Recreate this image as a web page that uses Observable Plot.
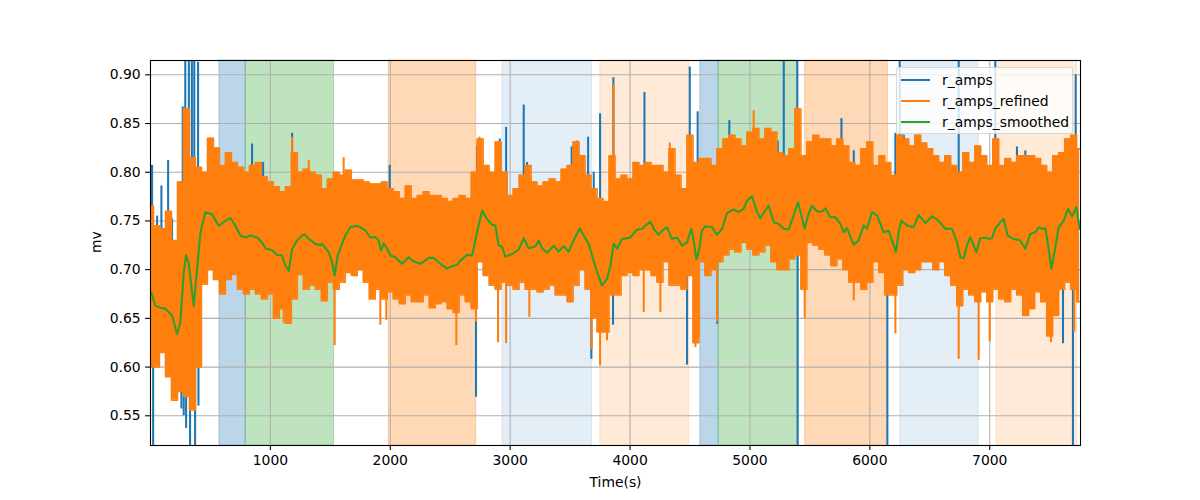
<!DOCTYPE html>
<html><head><meta charset="utf-8">
<script src="https://cdn.jsdelivr.net/npm/d3@7"></script>
<script src="https://cdn.jsdelivr.net/npm/@observablehq/plot@0.6"></script>
<style>
body{margin:0;background:#fff;font-family:"DejaVu Sans",sans-serif}
#wrap{position:relative;width:1200px;height:500px}
.legend{position:absolute;left:896px;top:67px;width:177px;height:67px;background:rgba(255,255,255,0.8);border:1px solid rgba(204,204,204,0.8);border-radius:3px;box-sizing:border-box;font-size:13.9px;color:#000}
.item{position:absolute;left:4px;height:18px;display:flex;align-items:center;white-space:nowrap}
.item .sw{width:29px;height:0;border-top:2.1px solid;margin-right:12px}
</style></head>
<body><div id="wrap"></div>
<script>
// ---- data ----
const seriesNames = ["r_amps", "r_amps_refined", "r_amps_smoothed"];
const xTicks = [1000, 2000, 3000, 4000, 5000, 6000, 7000];
const yTicks = [0.55, 0.60, 0.65, 0.70, 0.75, 0.80, 0.85, 0.90];

const spanStart = [575, 794, 1987, 2935, 3752, 4586, 4739, 5460, 6254, 7055];
const spanEnd   = [794, 1531, 2716, 3683, 4494, 4739, 5396, 6152, 6908, 7728];
const spanKind  = ["b", "g", "o", "lb", "lo", "b", "g", "o", "lb", "lo"];

// r_amps_refined: envelope of the dense oscillation (high / low) every 50 s
const refinedTime = [0,50,100,150,200,250,300,350,400,450,500,550,600,650,700,750,800,850,900,950,
1000,1050,1100,1150,1200,1250,1300,1350,1400,1450,1500,1550,1600,1650,1700,1750,1800,1850,1900,1950,
2000,2050,2100,2150,2200,2250,2300,2350,2400,2450,2500,2550,2600,2650,2700,2750,2800,2850,2900,2950,
3000,3050,3100,3150,3200,3250,3300,3350,3400,3450,3500,3550,3600,3650,3700,3750,3800,3850,3900,3950,
4000,4050,4100,4150,4200,4250,4300,4350,4400,4450,4500,4550,4600,4650,4700,4750,4800,4850,4900,4950,
5000,5050,5100,5150,5200,5250,5300,5350,5400,5450,5500,5550,5600,5650,5700,5750,5800,5850,5900,5950,
6000,6050,6100,6150,6200,6250,6300,6350,6400,6450,6500,6550,6600,6650,6700,6750,6800,6850,6900,6950,
7000,7050,7100,7150,7200,7250,7300,7350,7400,7450,7500,7550,7600,7650,7700,7750];
const refinedHigh = [0.765,0.745,0.742,0.760,0.730,0.790,0.865,0.815,0.805,0.800,0.835,0.825,0.807,0.820,0.810,0.805,0.800,0.807,0.810,0.795,
0.790,0.785,0.780,0.785,0.820,0.800,0.803,0.800,0.797,0.783,0.793,0.800,0.797,0.802,0.792,0.792,0.790,0.788,0.788,0.790,
0.783,0.780,0.773,0.786,0.773,0.776,0.780,0.776,0.776,0.773,0.770,0.773,0.776,0.773,0.800,0.834,0.807,0.800,0.831,0.800,
0.776,0.783,0.797,0.807,0.790,0.786,0.790,0.793,0.790,0.803,0.807,0.831,0.817,0.797,0.783,0.773,0.770,0.817,0.793,0.797,
0.793,0.810,0.807,0.810,0.807,0.807,0.800,0.824,0.797,0.783,0.838,0.810,0.814,0.814,0.807,0.824,0.834,0.838,0.834,0.827,
0.841,0.845,0.834,0.845,0.841,0.820,0.817,0.824,0.865,0.817,0.831,0.838,0.834,0.834,0.827,0.834,0.827,0.810,0.807,0.824,
0.831,0.807,0.817,0.810,0.797,0.838,0.834,0.827,0.838,0.830,0.824,0.817,0.810,0.817,0.807,0.800,0.820,0.810,0.827,0.817,
0.807,0.834,0.807,0.814,0.810,0.817,0.817,0.817,0.814,0.807,0.800,0.817,0.820,0.834,0.838,0.824];
const refinedLow = [0.600,0.600,0.615,0.590,0.566,0.575,0.570,0.556,0.600,0.685,0.700,0.690,0.675,0.690,0.695,0.680,0.675,0.680,0.675,0.670,
0.675,0.650,0.660,0.645,0.670,0.695,0.680,0.684,0.680,0.668,0.687,0.680,0.687,0.697,0.694,0.700,0.687,0.670,0.680,0.670,
0.677,0.670,0.665,0.674,0.667,0.667,0.674,0.661,0.665,0.667,0.660,0.656,0.674,0.667,0.660,0.708,0.694,0.684,0.680,0.687,
0.684,0.680,0.687,0.680,0.680,0.677,0.680,0.684,0.674,0.674,0.667,0.684,0.700,0.680,0.650,0.636,0.636,0.674,0.674,0.694,
0.697,0.694,0.700,0.700,0.694,0.687,0.708,0.684,0.684,0.680,0.694,0.625,0.708,0.694,0.700,0.708,0.715,0.721,0.718,0.728,
0.721,0.715,0.718,0.725,0.708,0.700,0.700,0.711,0.715,0.680,0.728,0.725,0.721,0.715,0.704,0.711,0.700,0.687,0.687,0.680,
0.687,0.708,0.697,0.674,0.674,0.684,0.700,0.697,0.700,0.708,0.708,0.700,0.708,0.694,0.684,0.663,0.680,0.674,0.667,0.677,
0.667,0.680,0.670,0.667,0.680,0.674,0.653,0.660,0.677,0.667,0.632,0.653,0.680,0.687,0.680,0.667];

// isolated excursions of r_amps_refined
const refinedSpikeTime  = [1111,1181,1320,1536,1611,1917,1967,2551,2715,2743,2899,2966,3160,3680,3750,3808,3862,4114,4253,4331,4492,4545,4573,4726,5031,5399,5457,5866,6213,6741,6908,7000,7511,7705];
const refinedSpikeValue = [0.645,0.836,0.812,0.622,0.815,0.643,0.648,0.622,0.646,0.836,0.625,0.624,0.651,0.618,0.601,0.627,0.890,0.656,0.656,0.830,0.838,0.620,0.630,0.646,0.863,0.866,0.650,0.668,0.634,0.608,0.607,0.626,0.625,0.636];

// r_amps excursions that show outside the refined band (values past the axis are clipped)
const rawSpikeTime  = [13,22,55,91,147,180,250,258,269,277,290,297,320,330,345,365,372,397,400,847,939,1181,1995,2715,2724,2913,2966,3113,3141,3513,3560,3650,3677,3697,3750,3861,3858,4120,4475,4498,4564,4726,4828,5232,5282,5395,5398,5763,5866,6146,6213,6249,6283,6741,7046,7227,7297,7533,7611,7694,7717];
const rawSpikeValue = [0.807,0.49,0.755,0.786,0.812,0.752,0.790,0.557,0.867,0.550,0.95,0.537,0.95,0.49,0.95,0.95,0.49,0.913,0.560,0.829,0.810,0.840,0.807,0.569,0.827,0.834,0.846,0.869,0.810,0.826,0.832,0.836,0.608,0.800,0.860,0.897,0.643,0.882,0.602,0.908,0.862,0.644,0.853,0.832,0.95,0.95,0.49,0.855,0.822,0.49,0.840,0.95,0.838,0.95,0.95,0.826,0.822,0.807,0.624,0.49,0.900];

// r_amps_smoothed
const smoothTime = [8,41,83,124,180,222,249,277,297,319,360,389,416,458,514,569,625,666,708,750,791,833,889,931,958,1014,1056,1098,1125,1153,1181,1223,1264,1292,1306,1375,1417,1431,1486,1515,1536,1561,1598,1625,1667,1723,1751,1793,1834,1876,1903,1923,1945,1973,2001,2043,2098,2153,2195,2251,2320,2362,2418,2474,2515,2557,2585,2640,2682,2724,2766,2807,2849,2877,2904,2932,2960,3016,3071,3113,3154,3210,3238,3266,3308,3363,3404,3446,3488,3529,3580,3613,3655,3683,3725,3766,3808,3836,3863,3892,3933,3975,4002,4058,4100,4169,4197,4238,4267,4308,4350,4392,4434,4475,4511,4530,4553,4572,4600,4628,4684,4725,4767,4809,4864,4906,4947,4976,5017,5059,5087,5129,5156,5198,5239,5281,5323,5364,5401,5429,5456,5484,5518,5559,5601,5629,5670,5712,5754,5781,5810,5865,5906,5948,5976,6018,6060,6115,6157,6185,6218,6240,6263,6310,6365,6407,6463,6519,6574,6629,6685,6727,6755,6782,6810,6838,6866,6888,6921,6963,6991,7019,7046,7088,7116,7149,7199,7255,7297,7338,7380,7408,7436,7464,7491,7514,7547,7575,7616,7653,7686,7722,7750];
const smoothValue = [0.676,0.663,0.661,0.660,0.653,0.634,0.646,0.697,0.715,0.706,0.663,0.701,0.738,0.759,0.757,0.745,0.750,0.753,0.745,0.735,0.733,0.735,0.733,0.728,0.722,0.720,0.715,0.7145,0.704,0.699,0.721,0.730,0.735,0.736,0.733,0.7265,0.725,0.7265,0.718,0.7076,0.694,0.7145,0.7265,0.735,0.7435,0.745,0.7435,0.740,0.733,0.7335,0.730,0.7196,0.727,0.7214,0.7145,0.7128,0.706,0.7128,0.7084,0.706,0.7121,0.7121,0.706,0.701,0.7035,0.705,0.7093,0.7152,0.7145,0.7384,0.7607,0.752,0.746,0.745,0.7247,0.7237,0.7134,0.716,0.7207,0.7323,0.722,0.7237,0.730,0.722,0.7173,0.7247,0.7186,0.724,0.7186,0.730,0.7425,0.735,0.7265,0.7145,0.6973,0.6837,0.6906,0.704,0.727,0.7214,0.7316,0.7323,0.733,0.7412,0.742,0.7494,0.742,0.7357,0.740,0.7435,0.7316,0.733,0.7247,0.728,0.742,0.730,0.7104,0.718,0.740,0.7445,0.7435,0.7357,0.742,0.7583,0.7617,0.759,0.7624,0.771,0.7754,0.759,0.7528,0.761,0.7658,0.7487,0.747,0.742,0.7412,0.7556,0.7692,0.7556,0.742,0.7556,0.7658,0.7597,0.7597,0.763,0.7538,0.7538,0.747,0.7384,0.7425,0.7255,0.730,0.7453,0.742,0.759,0.7556,0.7384,0.740,0.730,0.718,0.7384,0.7504,0.7453,0.7435,0.7563,0.748,0.7548,0.750,0.742,0.742,0.728,0.7128,0.7117,0.7247,0.7333,0.7247,0.718,0.7323,0.733,0.7316,0.7323,0.742,0.7487,0.752,0.735,0.7316,0.730,0.7214,0.7367,0.7384,0.7435,0.742,0.7425,0.7214,0.701,0.723,0.7435,0.750,0.7624,0.7548,0.7641,0.742];

// ---- build tables ----
const C = {blue: "#1f77b4", orange: "#ff7f0e", green: "#2ca02c"};
const spanStyle = {b: [C.blue, 0.3], g: [C.green, 0.3], o: [C.orange, 0.3], lb: [C.blue, 0.12], lo: [C.orange, 0.16]};
const spans = spanStart.map((s, i) => ({x1: s, x2: spanEnd[i], color: spanStyle[spanKind[i]][0], op: spanStyle[spanKind[i]][1]}));
const band = refinedTime.map((t, i) => ({t, hi: refinedHigh[i], lo: refinedLow[i]}));
function bandMid(t) {
  const i = Math.min(band.length - 1, Math.max(0, d3.bisectLeft(refinedTime, t)));
  return (band[i].hi + band[i].lo) / 2;
}
const refinedSpikes = refinedSpikeTime.map((t, i) => ({t, v: refinedSpikeValue[i], base: bandMid(t)}));
const rawSpikes = rawSpikeTime.map((t, i) => ({t, v: rawSpikeValue[i], base: bandMid(t)}));
const smooth = smoothTime.map((t, i) => ({t, v: smoothValue[i]}));

const lw = 2.08;
const chart = Plot.plot({
  width: 1200, height: 500,
  marginLeft: 150, marginRight: 120, marginTop: 60, marginBottom: 55,
  style: {fontFamily: "'DejaVu Sans', sans-serif", fontSize: "13.9px", color: "#000", background: "#fff"},
  x: {domain: [0, 7757]},
  y: {domain: [0.5195, 0.9147]},
  marks: [
    Plot.rect(spans, {x1: "x1", x2: "x2", fill: "color", fillOpacity: "op", stroke: "color", strokeOpacity: "op", strokeWidth: 1}),
    Plot.gridX(xTicks, {stroke: "#b0b0b0", strokeOpacity: 1, strokeWidth: 1.1}),
    Plot.gridY(yTicks, {stroke: "#b0b0b0", strokeOpacity: 1, strokeWidth: 1.1}),
    Plot.ruleX(rawSpikes, {x: "t", y1: "base", y2: "v", stroke: C.blue, strokeWidth: lw, clip: true}),
    Plot.areaY(band, {x: "t", y1: "lo", y2: "hi", fill: C.orange, fillOpacity: 1, curve: "step"}),
    Plot.lineY(band, {x: "t", y: "hi", stroke: C.orange, strokeWidth: 1.5, curve: "step"}),
    Plot.lineY(band, {x: "t", y: "lo", stroke: C.orange, strokeWidth: 1.5, curve: "step"}),
    Plot.ruleX(refinedSpikes, {x: "t", y1: "base", y2: "v", stroke: C.orange, strokeWidth: lw, clip: true}),
    Plot.lineY(smooth, {x: "t", y: "v", stroke: C.green, strokeWidth: lw}),
    Plot.frame({stroke: "#000", strokeWidth: 1.1}),
    Plot.axisX({ticks: xTicks, tickFormat: d => String(d), tickSize: 4.9, tickPadding: 4.4, strokeWidth: 1.1, label: null}),
    Plot.axisY({ticks: yTicks, tickFormat: d3.format(".2f"), tickSize: 4.9, tickPadding: 4.9, strokeWidth: 1.1, label: null}),
    Plot.text(["Time(s)"], {frameAnchor: "bottom", dy: 37, lineAnchor: "middle", fill: "#000"}),
    Plot.text(["mv"], {frameAnchor: "left", dx: -54, rotate: -90, lineAnchor: "middle", fill: "#000"})
  ]
});
const wrap = document.getElementById("wrap");
wrap.appendChild(chart);

// legend (matplotlib-style, upper right inside the axes)
const legend = document.createElement("div");
legend.className = "legend";
const colors = [C.blue, C.orange, C.green];
seriesNames.forEach((name, i) => {
  const item = document.createElement("div");
  item.className = "item";
  item.style.top = (3 + i * 21) + "px";
  const sw = document.createElement("span");
  sw.className = "sw";
  sw.style.borderTopColor = colors[i];
  const label = document.createElement("span");
  label.textContent = name;
  item.appendChild(sw);
  item.appendChild(label);
  legend.appendChild(item);
});
wrap.appendChild(legend);
</script></body></html>
